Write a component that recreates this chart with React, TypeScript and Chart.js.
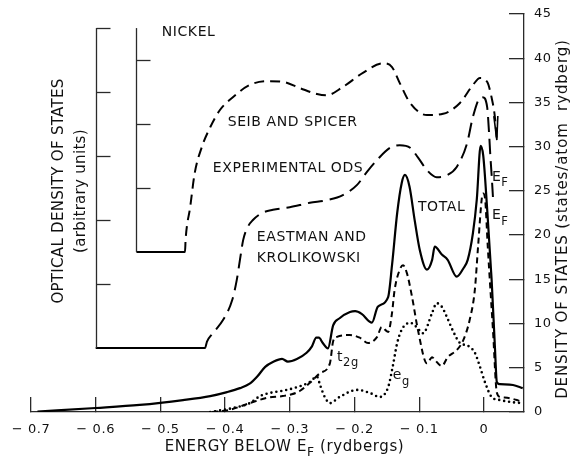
import React, { useEffect, useRef } from 'react';
import { Chart, registerables } from 'chart.js';

Chart.register(...registerables);

// ---------- DATA ----------
// Bottom axis (energy below E_F, rydbergs) and right axis (states / atom rydberg)
const energyTicks = [-0.7, -0.6, -0.5, -0.4, -0.3, -0.2, -0.1, 0];
const dosTicks = [0, 5, 10, 15, 20, 25, 30, 35, 40, 45];

// Optical density (arbitrary units) bracket axes
const odsOuterAxisEnergy = -0.6;
const odsOuterAxisRange = [1, 6];
const odsOuterTicks = [2, 3, 4, 5, 6];
const odsInnerAxisEnergy = -0.537;
const odsInnerAxisRange = [2.5, 6];
const odsInnerTicks = [3.5, 4.5, 5.5];

// TOTAL density of states (solid)
const totalEnergy = [-0.69, -0.6, -0.532, -0.465, -0.423, -0.397, -0.377, -0.362, -0.351, -0.338, -0.326, -0.312, -0.303, -0.289, -0.274, -0.266, -0.259, -0.255, -0.249, -0.241, -0.233, -0.223, -0.207, -0.199, -0.189, -0.173, -0.164, -0.148, -0.142, -0.134, -0.127, -0.122, -0.115, -0.107, -0.099, -0.088, -0.08, -0.076, -0.065, -0.056, -0.042, -0.032, -0.025, -0.017, -0.011, -0.005, -0.001, 0.005, 0.012, 0.017, 0.02, 0.025, 0.045, 0.06];
const totalDos = [0.05, 0.45, 0.8, 1.35, 1.8, 2.25, 2.7, 3.2, 3.95, 5.1, 5.65, 6.0, 5.7, 6.0, 6.7, 7.4, 8.4, 8.4, 7.8, 7.2, 9.8, 10.6, 11.3, 11.4, 11.1, 10.1, 11.9, 13.0, 16.6, 22.5, 25.9, 26.8, 25.5, 21.7, 18.3, 16.1, 17.2, 18.7, 17.8, 17.2, 15.3, 16.2, 17.2, 20.2, 24.0, 30.1, 29.0, 23.0, 14.9, 7.4, 3.4, 3.15, 3.05, 2.7];

// t2g partial density (short dashes)
const t2gEnergy = [-0.42, -0.393, -0.362, -0.335, -0.311, -0.297, -0.284, -0.269, -0.253, -0.238, -0.233, -0.227, -0.207, -0.192, -0.179, -0.165, -0.158, -0.148, -0.142, -0.138, -0.13, -0.125, -0.119, -0.111, -0.102, -0.088, -0.08, -0.076, -0.065, -0.056, -0.042, -0.032, -0.022, -0.014, -0.009, -0.003, -0.001, 0.002, 0.006, 0.014, 0.02, 0.025, 0.036, 0.051, 0.06];
const t2gDos = [0.0, 0.25, 1.0, 1.6, 1.8, 2.0, 2.4, 3.3, 4.4, 5.5, 8.0, 8.5, 8.7, 8.4, 7.8, 8.5, 9.6, 9.05, 11.2, 13.8, 16.1, 16.6, 15.7, 13.0, 9.3, 5.5, 6.2, 5.9, 5.2, 6.2, 7.0, 8.1, 10.4, 13.8, 18.7, 24.3, 24.7, 24.0, 18.7, 9.3, 2.2, 1.7, 1.6, 1.35, 1.1];

// eg partial density (dotted)
const egEnergy = [-0.423, -0.388, -0.362, -0.346, -0.331, -0.311, -0.289, -0.269, -0.258, -0.253, -0.246, -0.238, -0.223, -0.196, -0.176, -0.161, -0.148, -0.141, -0.134, -0.127, -0.114, -0.104, -0.094, -0.08, -0.073, -0.065, -0.057, -0.048, -0.037, -0.025, -0.014, -0.006, 0.002, 0.012, 0.025, 0.045, 0.06];
const egDos = [0.0, 0.45, 1.0, 1.8, 2.15, 2.4, 2.8, 3.4, 4.0, 3.0, 1.7, 1.0, 1.7, 2.5, 2.15, 1.7, 2.8, 5.1, 7.8, 9.3, 10.1, 9.6, 8.9, 11.2, 12.3, 11.9, 10.7, 9.2, 7.8, 7.5, 6.7, 5.1, 3.3, 1.7, 1.35, 1.1, 1.0];

// Seib and Spicer optical density (arbitrary units, medium dashes)
const seibEnergy = [-0.537, -0.462, -0.461, -0.454, -0.447, -0.436, -0.423, -0.408, -0.388, -0.362, -0.335, -0.311, -0.284, -0.258, -0.243, -0.218, -0.187, -0.156, -0.142, -0.13, -0.114, -0.088, -0.063, -0.037, -0.017, -0.006, 0.005, 0.012, 0.017, 0.02];
const seibOds = [2.5, 2.5, 2.7, 3.2, 3.73, 4.14, 4.45, 4.72, 4.92, 5.11, 5.17, 5.16, 5.06, 4.97, 4.95, 5.08, 5.3, 5.45, 5.39, 5.14, 4.83, 4.64, 4.66, 4.83, 5.11, 5.22, 5.16, 4.91, 4.61, 4.25];

// Eastman and Krolikowski optical density (arbitrary units, long dashes)
const eastmanEnergy = [-0.6, -0.431, -0.428, -0.419, -0.403, -0.389, -0.382, -0.377, -0.372, -0.365, -0.357, -0.343, -0.326, -0.3, -0.269, -0.243, -0.218, -0.196, -0.181, -0.165, -0.145, -0.13, -0.114, -0.102, -0.088, -0.073, -0.057, -0.042, -0.026, -0.017, -0.006, -0.002, 0.005, 0.008, 0.01, 0.012, 0.014];
const eastmanOds = [1.0, 1.0, 1.1, 1.23, 1.44, 1.75, 2.06, 2.38, 2.69, 2.89, 3.0, 3.11, 3.16, 3.2, 3.27, 3.31, 3.39, 3.55, 3.75, 3.94, 4.13, 4.17, 4.13, 3.98, 3.78, 3.67, 3.7, 3.83, 4.2, 4.61, 4.91, 4.92, 4.77, 4.36, 4.0, 3.7, 3.36];

// Text labels placed in (energy, states/atom Ry) coordinates
const plainLabels = [
  { text: 'NICKEL', e: -0.498, d: 42.9 },
  { text: 'SEIB AND SPICER', e: -0.396, d: 32.8 },
  { text: 'EXPERIMENTAL ODS', e: -0.419, d: 27.6 },
  { text: 'TOTAL', e: -0.102, d: 23.1 },
  { text: 'EASTMAN AND', e: -0.351, d: 19.7 },
  { text: 'KROLIKOWSKI', e: -0.351, d: 17.4 },
];
const subLabels = [
  { main: 't', sub: '2g', e: -0.227, d: 6.2 },
  { main: 'e', sub: 'g', e: -0.141, d: 4.1 },
  { main: 'E', sub: 'F', e: 0.0124, d: 26.5 },
  { main: 'E', sub: 'F', e: 0.0124, d: 22.2 },
];

// ---------- HELPERS ----------
const FONT = 'DejaVu Sans';
const INK = '#111';
const AXIS = '#2a2a2a';

const pts = (xs: number[], ys: number[]) => xs.map((x, i) => ({ x, y: ys[i] }));

const energyLabel = (v: number) => {
  const r = Math.round(v * 10) / 10;
  return r === 0 ? '0' : '\u2212 ' + Math.abs(r).toFixed(1);
};

type Part = { t: string; sub?: boolean };
function drawParts(
  ctx: CanvasRenderingContext2D,
  parts: Part[],
  x: number,
  y: number,
  size: number,
  align: 'left' | 'center',
  spacing = 0.6
) {
  (ctx as any).letterSpacing = `${spacing}px`;
  const subSize = size * 0.82;
  const widths = parts.map((p) => {
    ctx.font = `${p.sub ? subSize : size}px "${FONT}"`;
    return ctx.measureText(p.t).width;
  });
  const total = widths.reduce((a, b) => a + b, 0);
  let cx = align === 'center' ? x - total / 2 : x;
  ctx.textAlign = 'left';
  ctx.textBaseline = 'middle';
  parts.forEach((p, i) => {
    ctx.font = `${p.sub ? subSize : size}px "${FONT}"`;
    ctx.fillText(p.t, cx, y + (p.sub ? size * 0.42 : 0));
    cx += widths[i];
  });
}

const decorPlugin = {
  id: 'nickelDecor',
  beforeDraw(chart: any) {
    (chart.ctx as any).letterSpacing = '0.6px';
  },
  afterDraw(chart: any) {
    const { ctx, chartArea, scales } = chart;
    const xs = scales.x;
    const ys = scales.y;
    const yo = scales.yO;
    ctx.save();
    // optical-density bracket axes
    ctx.strokeStyle = AXIS;
    ctx.lineWidth = 1.3;
    const bracket = (e: number, range: number[], ticks: number[]) => {
      const px = Math.round(xs.getPixelForValue(e)) + 0.5;
      ctx.beginPath();
      ctx.moveTo(px, yo.getPixelForValue(range[0]));
      ctx.lineTo(px, yo.getPixelForValue(range[1]));
      ctx.stroke();
      ticks.forEach((t) => {
        const py = Math.round(yo.getPixelForValue(t)) + 0.5;
        ctx.beginPath();
        ctx.moveTo(px, py);
        ctx.lineTo(px + 14, py);
        ctx.stroke();
      });
    };
    bracket(odsOuterAxisEnergy, odsOuterAxisRange, odsOuterTicks);
    bracket(odsInnerAxisEnergy, odsInnerAxisRange, odsInnerTicks);

    // E_F marker at end of Seib & Spicer curve
    const n = seibEnergy.length - 1;
    const mx = xs.getPixelForValue(seibEnergy[n]);
    const my = yo.getPixelForValue(seibOds[n]);
    ctx.strokeStyle = '#000';
    ctx.lineWidth = 1.6;
    ctx.beginPath();
    ctx.moveTo(mx - 3, my - 24);
    ctx.lineTo(mx, my);
    ctx.lineTo(mx + 1, my - 24);
    ctx.stroke();

    // in-plot labels
    ctx.fillStyle = INK;
    plainLabels.forEach((l) => {
      drawParts(ctx, [{ t: l.text }], xs.getPixelForValue(l.e), ys.getPixelForValue(l.d), 14, 'left', 0.6);
    });
    subLabels.forEach((l) => {
      drawParts(ctx, [{ t: l.main }, { t: l.sub, sub: true }], xs.getPixelForValue(l.e), ys.getPixelForValue(l.d), 14, 'left', 0.6);
    });

    // x title
    drawParts(
      ctx,
      [{ t: 'ENERGY BELOW E' }, { t: 'F', sub: true }, { t: ' (rydbergs)' }],
      (chartArea.left + chartArea.right) / 2 + 7,
      chartArea.bottom + 35,
      15,
      'center',
      0.6
    );
    // left titles
    const midY = (yo.getPixelForValue(odsOuterAxisRange[0]) + yo.getPixelForValue(odsOuterAxisRange[1])) / 2 + 3;
    ctx.save();
    ctx.translate(59, midY);
    ctx.rotate(-Math.PI / 2);
    drawParts(ctx, [{ t: 'OPTICAL DENSITY OF STATES' }], 0, 0, 15, 'center', 0.3);
    ctx.restore();
    ctx.save();
    ctx.translate(81, midY);
    ctx.rotate(-Math.PI / 2);
    drawParts(ctx, [{ t: '(arbitrary units)' }], 0, 0, 15, 'center', 0.3);
    ctx.restore();
    // right title
    ctx.save();
    ctx.translate(chartArea.right + 39, (chartArea.top + chartArea.bottom) / 2 + 6);
    ctx.rotate(-Math.PI / 2);
    drawParts(ctx, [{ t: 'DENSITY OF STATES (states/atom  rydberg)' }], 0, 0, 15, 'center', 0.9);
    ctx.restore();

    ctx.restore();
    (ctx as any).letterSpacing = '0px';
  },
};

export default function App() {
  const ref = useRef<HTMLCanvasElement>(null);
  useEffect(() => {
    if (!ref.current) return;
    Chart.defaults.font.family = FONT;
    const chart = new Chart(ref.current, {
      type: 'line',
      data: {
        datasets: [
          {
            label: 'TOTAL',
            data: pts(totalEnergy, totalDos),
            yAxisID: 'y',
            borderColor: '#000',
            borderWidth: 2.2,
          },
          {
            label: 't2g',
            data: pts(t2gEnergy, t2gDos),
            yAxisID: 'y',
            borderColor: '#000',
            borderWidth: 2,
            borderDash: [6, 4],
          },
          {
            label: 'eg',
            data: pts(egEnergy, egDos),
            yAxisID: 'y',
            borderColor: '#000',
            borderWidth: 2.6,
            borderDash: [0, 5],
            borderCapStyle: 'round',
          },
          {
            label: 'SEIB AND SPICER',
            data: pts(seibEnergy, seibOds),
            yAxisID: 'yO',
            borderColor: '#000',
            borderWidth: 2,
            borderDash: [10, 6],
            segment: { borderDash: (c: any) => (c.p0DataIndex === 0 ? [] : undefined) },
          },
          {
            label: 'EASTMAN AND KROLIKOWSKI',
            data: pts(eastmanEnergy, eastmanOds),
            yAxisID: 'yO',
            borderColor: '#000',
            borderWidth: 2,
            borderDash: [15, 7],
            segment: { borderDash: (c: any) => (c.p0DataIndex === 0 ? [] : undefined) },
          },
        ] as any,
      },
      options: {
        animation: false,
        responsive: false,
        devicePixelRatio: 1,
        layout: { padding: { left: 31, top: 14, right: 0, bottom: 0 } },
        plugins: { legend: { display: false }, tooltip: { enabled: false } },
        elements: {
          point: { radius: 0 },
          line: { cubicInterpolationMode: 'monotone', fill: false },
        },
        scales: {
          x: {
            type: 'linear',
            position: 'bottom',
            min: -0.7,
            max: 0.062,
            border: { display: true, color: AXIS, width: 1.3 },
            grid: { display: true, drawOnChartArea: false, drawTicks: true, tickLength: -15, color: AXIS, lineWidth: 1.3 },
            ticks: {
              padding: 25,
              color: INK,
              font: { family: FONT, size: 13 },
              maxRotation: 0,
              autoSkip: false,
              callback: (v: any) => energyLabel(Number(v)),
            },
            afterBuildTicks: (s: any) => {
              s.ticks = energyTicks.map((v) => ({ value: v }));
            },
            afterFit: (s: any) => {
              s.height = 45;
              s.paddingLeft = 0;
              s.paddingRight = 0;
            },
          },
          y: {
            type: 'linear',
            position: 'right',
            min: 0,
            max: 45,
            border: { display: true, color: AXIS, width: 1.3 },
            grid: { display: true, drawOnChartArea: false, drawTicks: true, tickLength: -15, color: AXIS, lineWidth: 1.3 },
            ticks: {
              padding: 25,
              color: INK,
              font: { family: FONT, size: 13 },
              autoSkip: false,
            },
            afterBuildTicks: (s: any) => {
              s.ticks = dosTicks.map((v) => ({ value: v }));
            },
            afterFit: (s: any) => {
              s.width = 50;
              s.paddingTop = 0;
              s.paddingBottom = 0;
            },
          },
          yO: {
            type: 'linear',
            display: false,
            min: 0,
            max: 6.22,
          },
        },
      } as any,
      plugins: [decorPlugin as any],
    });
    return () => chart.destroy();
  }, []);
  return (
    <div style={{ position: 'fixed', left: 0, top: 0, width: 574, height: 457, background: '#fff' }}>
      <canvas ref={ref} width={574} height={457} style={{ display: 'block', width: 574, height: 457 }} />
    </div>
  );
}
